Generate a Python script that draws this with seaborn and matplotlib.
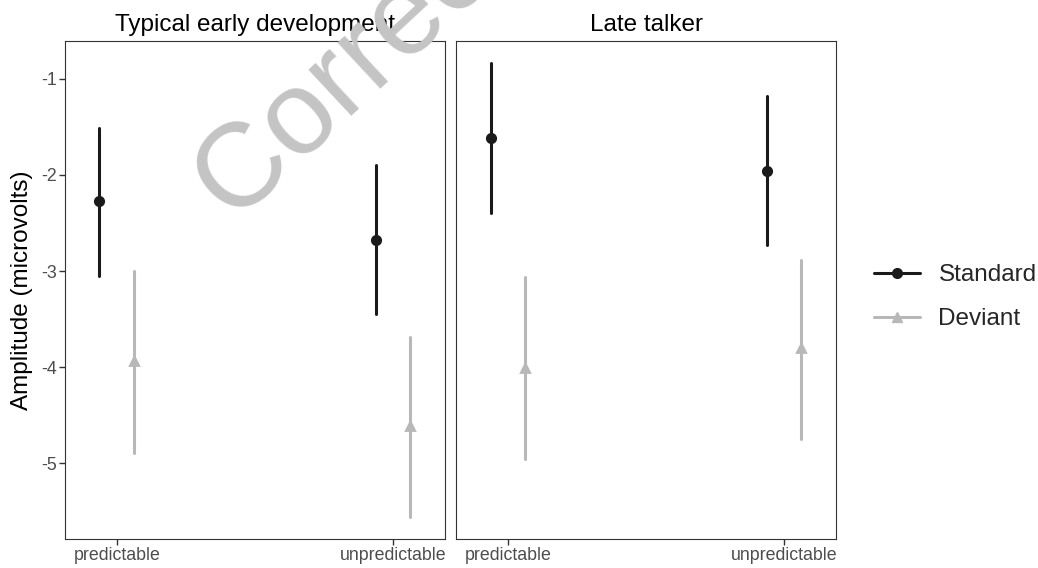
import numpy as np
import pandas as pd
import seaborn as sns
import matplotlib.pyplot as plt
from matplotlib.lines import Line2D

# values (mean, lower and upper end of each bar)
groups = ['Typical early development', 'Late talker']
conditions = ['predictable', 'unpredictable']
stimuli = ['Standard', 'Deviant']

std_mean = [[-2.27, -2.68], [-1.61, -1.96]]
std_lo = [[-3.05, -3.45], [-2.40, -2.73]]
std_hi = [[-1.51, -1.90], [-0.83, -1.18]]

dev_mean = [[-3.94, -4.61], [-4.01, -3.80]]
dev_lo = [[-4.89, -5.56], [-4.96, -4.75]]
dev_hi = [[-3.00, -3.69], [-3.06, -2.88]]

colors = {'Standard': '#1a1a1a', 'Deviant': '#b8b8b8'}
markers = ['o', '^']

# long table: lower / mean / upper rows, median = mean, min-max = bar
rows = []
for stim, m, lo, hi in [('Standard', std_mean, std_lo, std_hi),
                        ('Deviant', dev_mean, dev_lo, dev_hi)]:
    for gi, g in enumerate(groups):
        for ci, c in enumerate(conditions):
            for v in (lo[gi][ci], m[gi][ci], hi[gi][ci]):
                rows.append({'group': g, 'condition': c, 'stimulus': stim, 'amp': v})
df = pd.DataFrame(rows)

sns.set_theme(style='white')
plt.rcParams['font.family'] = ['Liberation Sans', 'DejaVu Sans']

fig, axes = plt.subplots(1, 2, figsize=(10.38, 5.68), dpi=100, sharey=True)
fig.subplots_adjust(left=0.0626, right=0.8054, bottom=0.051, top=0.928, wspace=0.029)

for ax, g in zip(axes, groups):
    ax.set_facecolor('none')
    sns.pointplot(data=df[df.group == g], x='condition', y='amp', hue='stimulus',
                  order=conditions, hue_order=stimuli, palette=colors,
                  markers=markers, linestyle='none', dodge=0.126,
                  estimator=np.median, errorbar=lambda v: (v.min(), v.max()),
                  err_kws={'linewidth': 2.2}, markersize=6, ax=ax, legend=False)
    ax.set_xlim(-0.188, 1.188)
    ax.set_ylim(-5.79, -0.604)
    ax.set_title(g, fontsize=17.5, color='black', pad=7)
    ax.set_xlabel('')
    ax.set_ylabel('')
    for s in ax.spines.values():
        s.set_color('#333333')
        s.set_linewidth(0.8)
    ax.tick_params(axis='x', bottom=True, length=4, width=1, color='#333333',
                   labelsize=12.8, labelcolor='#4d4d4d', pad=2)

axes[0].set_yticks([-1, -2, -3, -4, -5])
axes[0].set_yticklabels(['-1', '-2', '-3', '-4', '-5'])
axes[0].tick_params(axis='y', left=True, length=4, width=1, color='#333333',
                    labelsize=12.8, labelcolor='#4d4d4d', pad=2)
axes[1].tick_params(axis='y', left=False, labelleft=False)
axes[0].set_ylabel('Amplitude (microvolts)', fontsize=17.5, color='black', labelpad=6)

handles = [Line2D([], [], color=colors[s], marker=mk, markersize=7, linewidth=2.2)
           for s, mk in zip(stimuli, markers)]
fig.legend(handles, stimuli, loc='center left', bbox_to_anchor=(0.821, 0.477),
           frameon=False, fontsize=17.5, handlelength=1.9, handletextpad=0.75,
           labelspacing=0.9)

# watermark
fig.text(0.226, 0.603, 'Corrected Proof', fontsize=86, color='#c4c4c4',
         rotation=43, rotation_mode='anchor', ha='left', va='baseline', zorder=0)

fig.savefig('out.png', dpi=100)
